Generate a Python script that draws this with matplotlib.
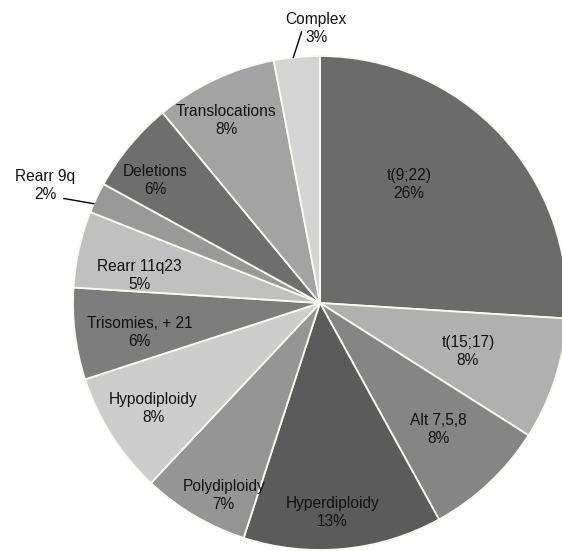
import numpy as np
import matplotlib.pyplot as plt

plt.rcParams['font.family'] = ['Liberation Sans', 'DejaVu Sans']

# slices, clockwise from 12 o'clock
labels = ['t(9;22)', 't(15;17)', 'Alt 7,5,8', 'Hyperdiploidy', 'Polydiploidy',
          'Hypodiploidy', 'Trisomies, + 21', 'Rearr 11q23', 'Rearr 9q',
          'Deletions', 'Translocations', 'Complex']
values = [26, 8, 8, 13, 7, 8, 6, 5, 2, 6, 8, 3]
colors = ['#6b6b6b', '#b0b0b0', '#858585', '#5b5b5b', '#959595', '#cdcdcd',
          '#7d7d7d', '#c0c0c0', '#999999', '#6e6e6e', '#a3a3a3', '#d4d4d4']

# label placement (radius, angle shift in degrees)
lab_r = [0.6, 0.63, 0.7, 0.85, 0.87, 0.8, 0.74, 0.74, 1.21, 0.83, 0.83, 1.11]
lab_shift = [10, 0, 0, -2, 4, 0, 2, 4, 2, 3, 2, -4.6]
outside = {'Rearr 9q': (1.0, 1.12, 1.5, 3), 'Complex': (1.0, 1.1, 0.8, -1.5)}

fig = plt.figure(figsize=(5.62, 5.51), dpi=100)
ax = fig.add_axes([0, 0, 1, 1])
wedges, _ = ax.pie(values, colors=colors, startangle=90, counterclock=False,
                   radius=1.0, wedgeprops=dict(edgecolor='#fbfbf3', linewidth=1.3))

for i, w in enumerate(wedges):
    mid = (w.theta1 + w.theta2) / 2
    ang = np.deg2rad(mid + lab_shift[i])
    x, y = lab_r[i] * np.cos(ang), lab_r[i] * np.sin(ang)
    ax.text(x, y, '%s\n%d%%' % (labels[i], values[i]), ha='center', va='center',
            fontsize=11.2, linespacing=1.25, color='#111111')
    if labels[i] in outside:
        r0, r1, s0, s1 = outside[labels[i]]
        a0, a1 = np.deg2rad(mid + s0), np.deg2rad(mid + s1)
        ax.plot([r0 * np.cos(a0), r1 * np.cos(a1)], [r0 * np.sin(a0), r1 * np.sin(a1)],
                color='black', lw=1.0)

ax.set_aspect('equal')
ax.set_xlim(-320 / 247, 242 / 247)
ax.set_ylim(-248 / 247, 303 / 247)
ax.axis('off')
fig.savefig('out.png', dpi=100)
